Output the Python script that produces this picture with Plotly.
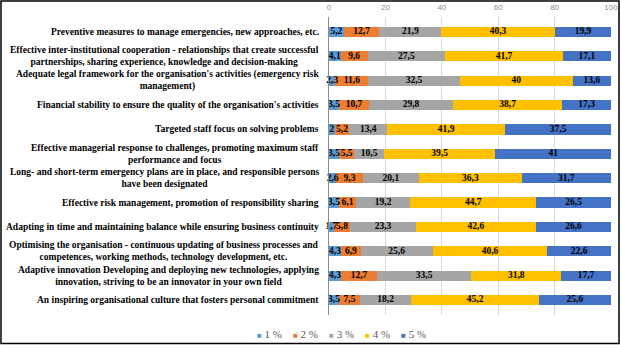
import numpy as np
import plotly.graph_objects as go

categories = [
    "Preventive measures to manage emergencies, new approaches, etc.",
    "Effective inter-institutional cooperation - relationships that create successful<br>partnerships, sharing experience, knowledge and decision-making",
    "Adequate legal framework for the organisation's activities (emergency risk<br>management)",
    "Financial stability to ensure the quality of the organisation's activities",
    "Targeted staff focus on solving problems",
    "Effective managerial response to challenges, promoting maximum staff<br>performance and focus",
    "Long- and short-term emergency plans are in place, and responsible persons<br>have been designated",
    "Effective risk management, promotion of responsibility sharing",
    "Adapting in time and maintaining balance while ensuring business continuity",
    "Optimising the organisation - continuous updating of business processes and<br>competences, working methods, technology development, etc.",
    "Adaptive innovation Developing and deploying new technologies, applying<br>innovation, striving to be an innovator in your own field",
    "An inspiring organisational culture that fosters personal commitment",
]

series_names = ["1 %", "2 %", "3 %", "4 %", "5 %"]
s1 = [5.2, 4.1, 2.3, 3.5, 2, 3.5, 2.6, 3.5, 1.7, 4.3, 4.3, 3.5]
s2 = [12.7, 9.6, 11.6, 10.7, 5.2, 5.5, 9.3, 6.1, 5.8, 6.9, 12.7, 7.5]
s3 = [21.9, 27.5, 32.5, 29.8, 13.4, 10.5, 20.1, 19.2, 23.3, 25.6, 33.5, 18.2]
s4 = [40.3, 41.7, 40, 38.7, 41.9, 39.5, 36.3, 44.7, 42.6, 40.6, 31.8, 45.2]
s5 = [19.9, 17.1, 13.6, 17.3, 37.5, 41, 31.7, 26.5, 26.6, 22.6, 17.7, 25.6]
series_values = [s1, s2, s3, s4, s5]
colors = ["#5B9BD5", "#ED7D31", "#A5A5A5", "#FFC000", "#4472C4"]
tick_values = [0, 20, 40, 60, 80, 100]

FONT = "Liberation Serif"

def fmt(v):
    return f"{v:g}".replace(".", ",")

fig = go.Figure()
for name, vals, col in zip(series_names, series_values, colors):
    fig.add_trace(go.Bar(
        y=categories, x=vals, name=name, orientation="h",
        marker=dict(color=col, line=dict(width=0)),
        hoverinfo="skip", showlegend=False,
    ))

# data labels drawn above all bars (centre of each stacked segment)
cum = np.zeros(len(categories))
for name, vals in zip(series_names, series_values):
    v = np.array(vals, dtype=float)
    mids = cum + v / 2
    cum = cum + v
    fig.add_trace(go.Scatter(
        x=mids, y=categories, mode="text", text=[fmt(x) for x in vals],
        textposition="middle center", cliponaxis=False,
        textfont=dict(family=FONT, size=9.5, color="black", weight="bold"),
        hoverinfo="skip", showlegend=False,
    ))

W, H = 621, 345
L, R, T, B = 329, 10, 17, 30
pw, ph = W - L - R, H - T - B

# category labels as centered multi-line annotations
for c in categories:
    fig.add_annotation(
        x=0, xref="paper", y=c, yref="y", xanchor="right", xshift=-8,
        text="<b>" + c + "</b>", showarrow=False, align="center",
        font=dict(family=FONT, size=9.5, color="black"),
    )

# legend (Excel style: small squares, tight spacing)
legend_text = "&nbsp;&nbsp;&nbsp;&nbsp;".join(
    f"<span style='color:{col};font-size:8px'>■</span>&nbsp;{name}"
    for name, col in zip(series_names, colors)
)
fig.add_annotation(
    x=(341 - L) / pw, xref="paper", y=1 - (334 - T) / ph, yref="paper",
    xanchor="center", yanchor="middle", text=legend_text, showarrow=False,
    font=dict(family=FONT, size=11, color="#595959"),
)

# outer frame
fig.add_shape(type="rect", xref="paper", yref="paper",
              x0=(1 - L) / pw, x1=(619 - L) / pw,
              y0=1 - (343.5 - T) / ph, y1=1 + (T - 1) / ph,
              line=dict(color="black", width=1.5), layer="above")

fig.update_layout(
    width=W, height=H,
    margin=dict(l=L, r=R, t=T, b=B, autoexpand=False),
    barmode="stack", bargap=0.58,
    plot_bgcolor="white", paper_bgcolor="white",
    showlegend=False,
    xaxis=dict(side="top", range=[0, 100], tickvals=tick_values,
               showgrid=True, gridcolor="#D9D9D9", gridwidth=1,
               zeroline=False, showline=False, ticks="",
               ticklabelstandoff=4,
               tickfont=dict(family="Liberation Sans", size=8, color="#8C8C8C")),
    yaxis=dict(autorange="reversed", showticklabels=False, ticks="",
               showline=True, linecolor="#8C8C8C", linewidth=1,
               showgrid=False),
)

fig.write_html("out.html")
